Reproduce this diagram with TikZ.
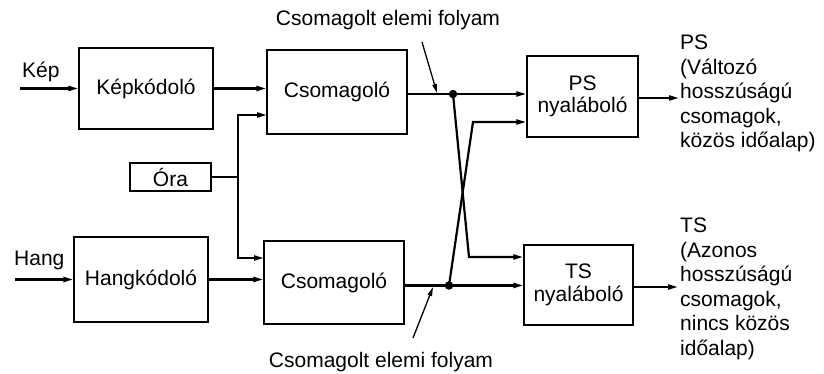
\documentclass[tikz,border=0pt]{standalone}
\usepackage{fontspec}
\setmainfont{Liberation Sans}
\usetikzlibrary{arrows.meta}
\begin{document}
\begin{tikzpicture}[x=1pt,y=-1pt,
  font=\fontsize{21}{24.5}\selectfont,
  block/.style={draw, line width=1.4pt, inner sep=0pt, align=center},
  flow/.style={line width=2.2pt, -{Triangle[length=10pt,width=5pt]}},
  line/.style={line width=2.2pt},
  pointer/.style={line width=1.3pt, -{Triangle[length=9pt,width=4.5pt]}},
  lbl/.style={inner sep=0pt, anchor=west, align=left},
  dot/.style={circle, fill, inner sep=0pt, minimum size=8.5pt}]
\useasboundingbox (0,0) rectangle (824,374);

% processing blocks
\node[block, minimum width=134pt, minimum height=81pt] (kepk) at (146,88.5) {Képkódoló};
\node[block, minimum width=140pt, minimum height=84pt] (csom1) at (337,92) {Csomagoló};
\node[block, minimum width=81pt, minimum height=28pt] (ora) at (170.5,177) {Óra};
\node[block, minimum width=134pt, minimum height=85pt] (hangk) at (141,279.5) {Hangkódoló};
\node[block, minimum width=140pt, minimum height=83pt] (csom2) at (334,282.5) {Csomagoló};
\node[block, minimum width=111pt, minimum height=81pt] (psmux) at (582.5,96.5) {PS\\[-2pt]nyaláboló};
\node[block, minimum width=109pt, minimum height=80pt] (tsmux) at (578.5,285) {TS\\[-2pt]nyaláboló};

% text labels
\node[lbl] (kep) at (22,72) {Kép};
\node[lbl] (hang) at (14,260) {Hang};
\node[inner sep=0pt] (top) at (388,20) {Csomagolt elemi folyam};
\node[inner sep=0pt] (bot) at (381,362) {Csomagolt elemi folyam};
\node[lbl, anchor=north west] (pslbl) at (680,35) {PS\\(Változó\\hosszúságú\\csomagok,\\közös időalap)};
\node[lbl, anchor=north west] (tslbl) at (680,218) {TS\\(Azonos\\hosszúságú\\csomagok,\\nincs közös\\időalap)};

% junction points
\coordinate (kepin) at (20,88.5);
\coordinate (hangin) at (15,279.5);
\coordinate (clk) at (238,177);
\coordinate (c1b) at (267,115);
\coordinate (c2a) at (264,258);
\node[dot] (d1) at (453,94) {};
\node[dot] (d2) at (449,285.5) {};
\coordinate (x1) at (469,257);
\coordinate (x2) at (473,122);
\coordinate (psout) at (679,98);
\coordinate (tsout) at (678,287);
\coordinate (p1) at (422,42);
\coordinate (p1e) at (437,93);
\coordinate (p2) at (413,338);
\coordinate (p2e) at (433,287);

% inputs
\draw[flow] (kepin) -- (kepk.west);
\draw[flow] (hangin) -- (hangk.west);
\draw[flow] (kepk.east) -- (kepk.east -| csom1.west);
\draw[flow] (hangk.east) -- (hangk.east -| csom2.west);

% clock distribution
\draw[line] (ora.east) -- (clk);
\draw[flow] (clk) |- (c1b);
\draw[flow] (clk) |- (c2a);

% packetised elementary streams
\draw[line] (csom1.east |- d1) -- (d1);
\draw[flow] (d1) -- (d1 -| psmux.west);
\draw[line] (csom2.east |- d2) -- (d2);
\draw[flow] (d2) -- (d2 -| tsmux.west);
\draw[flow] (d1.center) -- (x1) -- (x1 -| tsmux.west);
\draw[flow] (d2.center) -- (x2) -- (x2 -| psmux.west);

% outputs
\draw[flow] (psmux.east |- psout) -- (psout);
\draw[flow] (tsmux.east |- tsout) -- (tsout);

% label pointers
\draw[pointer] (p1) -- (p1e);
\draw[pointer] (p2) -- (p2e);
\end{tikzpicture}
\end{document}
